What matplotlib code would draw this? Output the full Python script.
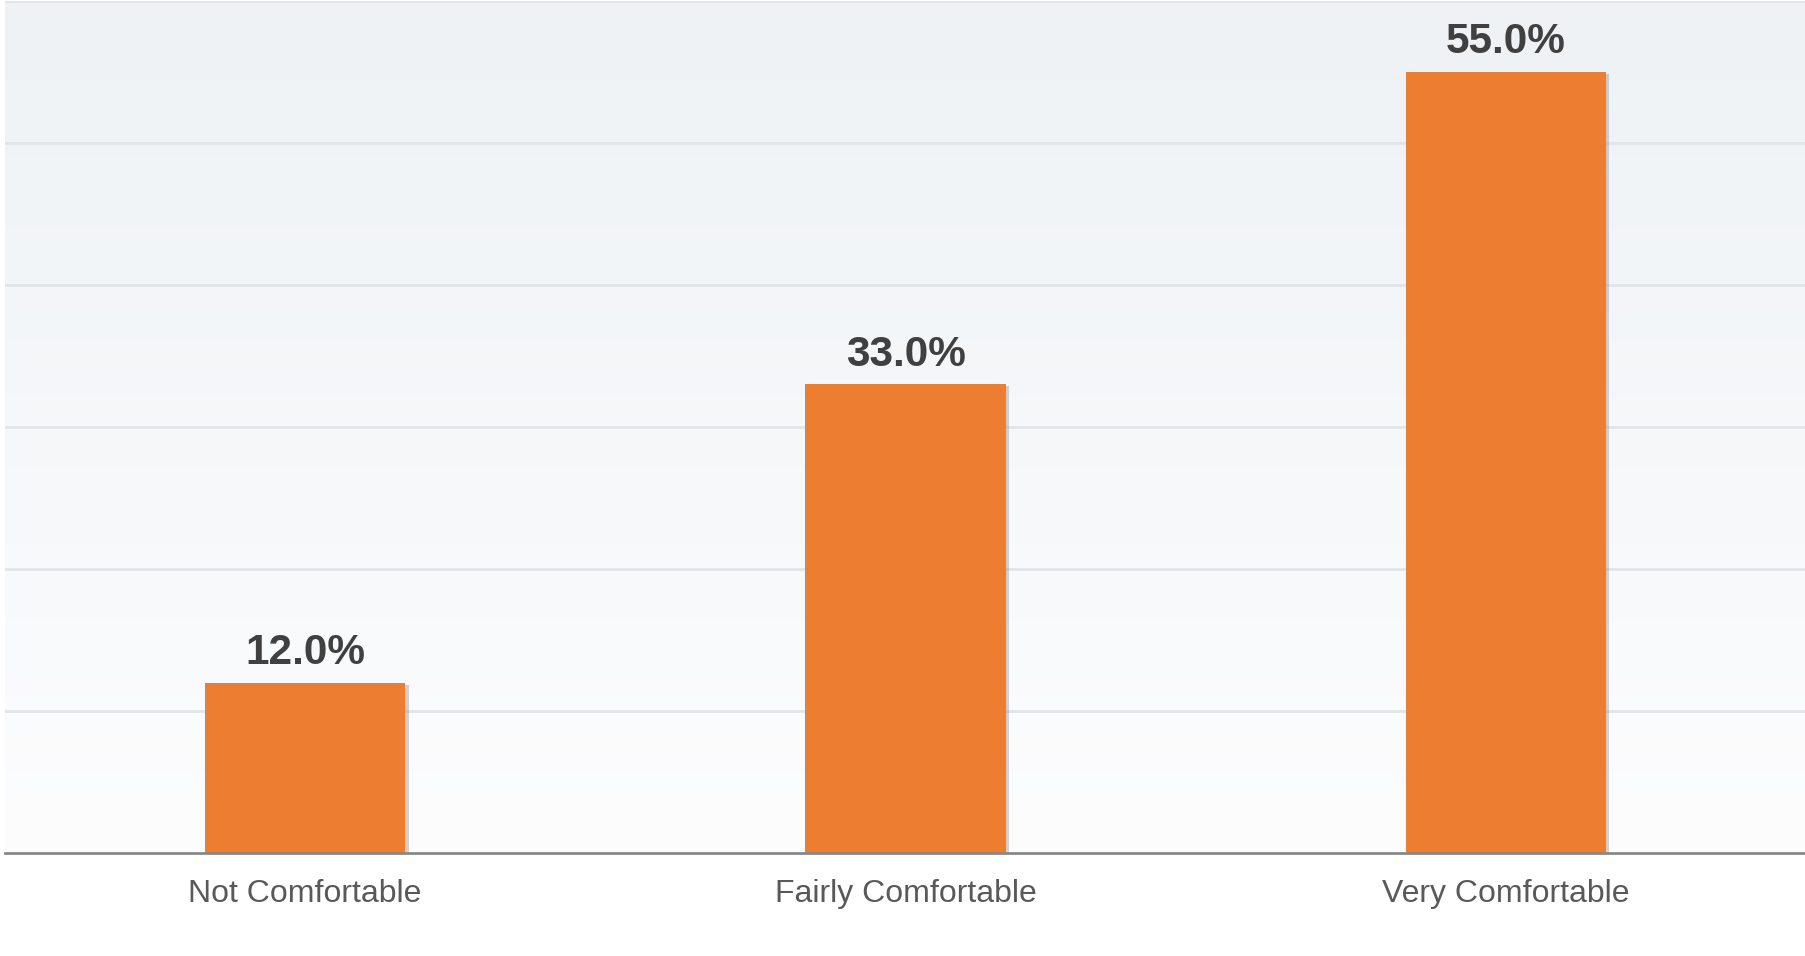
import numpy as np
import matplotlib
matplotlib.use('Agg')
import matplotlib.pyplot as plt
import matplotlib.patheffects as pe
from matplotlib.colors import LinearSegmentedColormap

categories = ['Not Comfortable', 'Fairly Comfortable', 'Very Comfortable']
values = [12.0, 33.0, 55.0]
labels = ['12.0%', '33.0%', '55.0%']

plt.rcParams['font.family'] = ['Liberation Sans', 'DejaVu Sans']

fig = plt.figure(figsize=(18.06, 9.56), dpi=100)
ax = fig.add_axes([5 / 1806, 103 / 956, 1 - 5 / 1806, 852 / 956])

# background gradient, light blue-grey at top fading to white
cmap = LinearSegmentedColormap.from_list('bg', ['#fdfdfe', '#eef2f5'])
grad = np.linspace(0, 1, 256).reshape(-1, 1)
ax.imshow(grad, cmap=cmap, aspect='auto', extent=[0, 1, 0, 1],
          transform=ax.transAxes, origin='lower', zorder=0)

x = np.arange(len(categories))
bars = ax.bar(x, values, width=1 / 3, color='#ED7D31', zorder=3)
for b in bars:
    b.set_path_effects([pe.SimplePatchShadow(offset=(2.5, -1.5), shadow_rgbFace='#7f7f7f', alpha=0.35),
                        pe.Normal()])

for xi, v, lab in zip(x, values, labels):
    ax.annotate(lab, (xi, v), xytext=(0, 13.5), textcoords='offset points',
                ha='center', va='baseline', fontsize=30.5, fontweight='bold',
                color='#404040', zorder=4)

ax.set_xlim(-0.5, 2.5)
ax.set_ylim(0, 60)
ax.set_yticks(np.arange(10, 61, 10))
ax.yaxis.grid(True, color='#e2e5e8', linewidth=2, zorder=1)
ax.set_axisbelow(True)
ax.tick_params(axis='y', left=False, labelleft=False)

ax.set_xticks(x)
ax.set_xticklabels(categories, fontsize=23, color='#595959')
ax.tick_params(axis='x', length=0, pad=19)

for side in ['top', 'right', 'left']:
    ax.spines[side].set_visible(False)
ax.spines['bottom'].set_color('#888888')
ax.spines['bottom'].set_linewidth(2)
ax.spines['bottom'].set_zorder(5)

fig.savefig('out.png', dpi=100, facecolor='white')
